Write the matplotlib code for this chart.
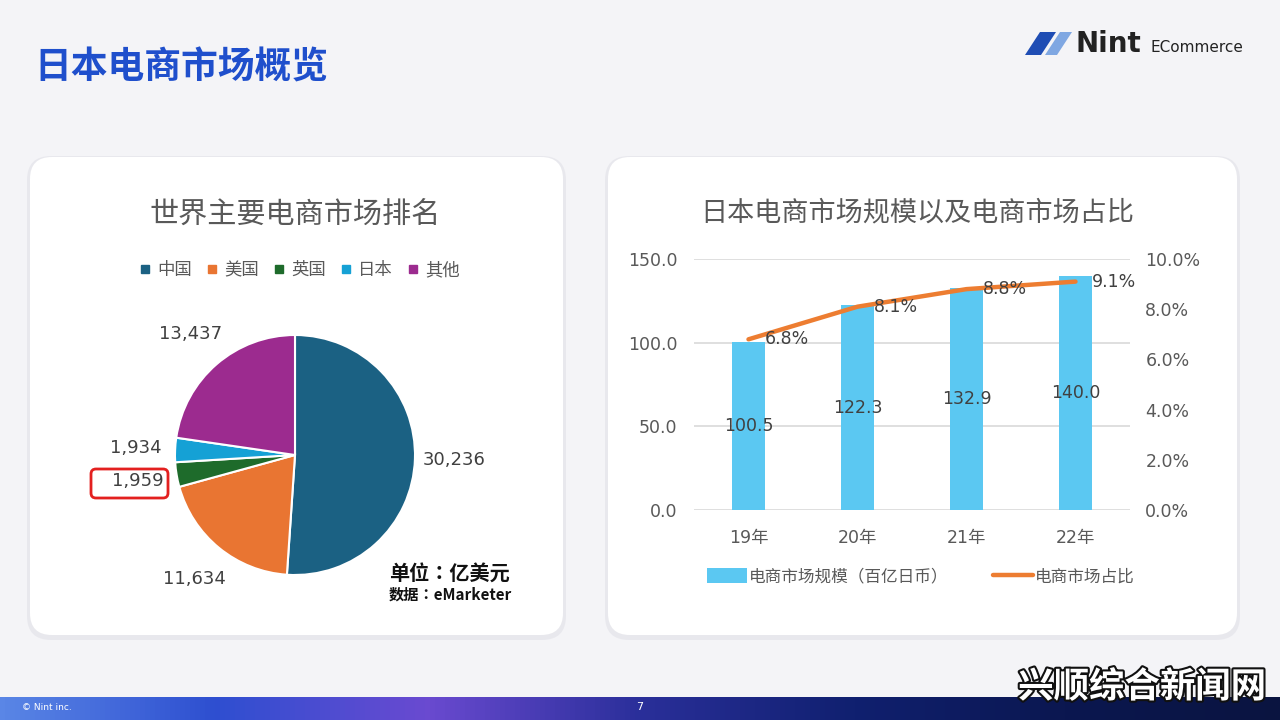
import matplotlib
matplotlib.use("Agg")
import matplotlib.pyplot as plt
import matplotlib.patheffects as pe
from matplotlib.patches import FancyBboxPatch, Polygon
from matplotlib.lines import Line2D
from matplotlib.colors import LinearSegmentedColormap
import numpy as np

plt.rcParams['font.family'] = ['DejaVu Sans', 'Noto Sans CJK SC']

# pie data
markets = ['中国', '美国', '英国', '日本', '其他']
market_values = [30236, 11634, 1959, 1934, 13437]
market_colors = ['#1b6183', '#e97532', '#1e6b2b', '#15a1d5', '#9c2b8f']

# bar / line data
years = ['19年', '20年', '21年', '22年']
market_size = [100.5, 122.3, 132.9, 140.0]
market_share = [6.8, 8.1, 8.8, 9.1]

W, H = 1280, 720
TXT = '#595959'
CJK = ['Noto Sans CJK SC', 'DejaVu Sans']


def px(x, y, w, h):
    return [x / W, 1 - (y + h) / H, w / W, h / H]


fig = plt.figure(figsize=(12.8, 7.2), dpi=100)
fig.patch.set_facecolor('#f4f4f7')

# background layer in pixel coords
bg = fig.add_axes([0, 0, 1, 1], zorder=-1)
bg.axis('off')

for (x, y, w, h) in [(30, 157, 533, 478), (608, 157, 629, 478)]:
    bg.add_patch(FancyBboxPatch((x - 3, y - 1), w + 6, h + 6,
                                boxstyle="round,pad=0,rounding_size=24",
                                fc='#e4e4ea', ec='none', alpha=0.7))
    bg.add_patch(FancyBboxPatch((x, y), w, h, boxstyle="round,pad=0,rounding_size=22",
                                fc='white', ec='none'))

bg.text(34, 68, '日本电商市场概览', fontsize=26.5, fontweight='bold', color='#1f4fcc',
        va='center', ha='left', family=CJK)

# logo
bg.add_patch(Polygon([[1025, 55], [1040, 32], [1056, 32], [1041, 55]], fc='#1f4db4', ec='none'))
bg.add_patch(Polygon([[1045, 55], [1060, 32], [1072, 32], [1057, 55]], fc='#7fa7e2', ec='none'))
bg.text(1076, 44, 'Nint', fontsize=20, fontweight='bold', color='#222222', va='center', ha='left')
bg.text(1151, 48, 'ECommerce', fontsize=11, color='#222222', va='center', ha='left')

# left card texts
bg.text(295, 215, '世界主要电商市场排名', fontsize=21, color=TXT, ha='center', va='center', family=CJK)
bg.text(389, 573, '单位：亿美元', fontsize=14.5, fontweight='bold', color='#111111',
        ha='left', va='center', family=['Noto Sans CJK TC', 'DejaVu Sans'])
bg.text(389, 595, '数据：eMarketer', fontsize=11, fontweight='bold', color='#111111',
        ha='left', va='center', family=['Noto Sans CJK TC', 'DejaVu Sans'])
bg.add_patch(FancyBboxPatch((91, 469), 77, 29, boxstyle="round,pad=0,rounding_size=5",
                            fc='none', ec='#e3201f', lw=2))

# right card title
bg.text(917, 213, '日本电商市场规模以及电商市场占比', fontsize=19.5, color=TXT,
        ha='center', va='center', family=CJK)

# footer
cmap = LinearSegmentedColormap.from_list('foot', ['#5a86e6', '#2e4fd0', '#6a4ad0', '#2a2f9a',
                                                  '#102070', '#0b1750', '#0a1440'])
bg.imshow(np.linspace(0, 1, 256)[None, :], cmap=cmap, aspect='auto',
          extent=(0, W, 720, 697), zorder=0)
bg.set_xlim(0, W)
bg.set_ylim(H, 0)
bg.text(22, 707, '© Nint inc.', fontsize=6.5, color='white', va='center')
bg.text(640, 707, '7', fontsize=8, color='white', va='center', ha='center')
bg.text(1142, 687, '兴顺综合新闻网', fontsize=25.5, fontweight='bold', color='white',
        ha='center', va='center', family=CJK,
        path_effects=[pe.withStroke(linewidth=3, foreground='#111111')])

# pie chart
r_px = 120
ax_pie = fig.add_axes(px(295 - 180, 455 - 180, 360, 360))
ax_pie.set_facecolor('none')
wedges, texts = ax_pie.pie(market_values, colors=market_colors, startangle=90, counterclock=False,
                           labels=[f'{v:,}' for v in market_values], labeldistance=1.33,
                           wedgeprops=dict(edgecolor='white', linewidth=1.5),
                           textprops=dict(fontsize=13, color='#404040'))
for t in texts:
    t.set_ha('center')
    t.set_va('center')
lim = 180 / r_px
ax_pie.set_xlim(-lim, lim)
ax_pie.set_ylim(-lim, lim)
ax_pie.set_aspect('equal')

handles = [Line2D([], [], marker='s', ls='none', markersize=6, color=c) for c in market_colors]
fig.legend(handles, markets, loc='center', bbox_to_anchor=(300 / W, 1 - 270 / H), ncol=5,
           frameon=False, fontsize=12.5, handlelength=0.6, handletextpad=0.4, columnspacing=0.85,
           labelcolor=TXT)

# bar + line chart
ax = fig.add_axes(px(694, 259, 436, 251))
ax.set_facecolor('none')
x = np.arange(len(years))
bars = ax.bar(x, market_size, width=0.31, color='#5bc8f2', zorder=2)
ax.set_ylim(0, 150)
ax.set_xlim(-0.5, len(years) - 0.5)
ax.set_yticks([0, 50, 100, 150])
ax.set_yticklabels([f'{v:.1f}' for v in [0, 50, 100, 150]])
ax.set_xticks(x)
ax.set_xticklabels(years)
ax.grid(axis='y', color='#d9d9d9', lw=1.2, zorder=0)
for s in ax.spines.values():
    s.set_visible(False)
ax.tick_params(length=0, labelsize=12.5, labelcolor=TXT)
ax.tick_params(axis='y', pad=12)
ax.tick_params(axis='x', pad=14)
for i, v in enumerate(market_size):
    ax.text(i, v / 2, f'{v:.1f}', ha='center', va='center', fontsize=12.5, color='#404040', zorder=3)

ax2 = ax.twinx()
ax2.set_ylim(0, 10)
line, = ax2.plot(x, market_share, color='#ed7d31', lw=3.2, solid_capstyle='round')
ax2.set_yticks([0, 2, 4, 6, 8, 10])
ax2.set_yticklabels([f'{v:.1f}%' for v in [0, 2, 4, 6, 8, 10]])
ax2.tick_params(length=0, labelsize=12.5, labelcolor=TXT, pad=11)
for s in ax2.spines.values():
    s.set_visible(False)
for i, v in enumerate(market_share):
    ax2.annotate(f'{v:.1f}%', (i, v), xytext=(12, 0), textcoords='offset points',
                 ha='left', va='center', fontsize=12.5, color='#404040')

ax.legend([bars, line], ['电商市场规模（百亿日币）', '电商市场占比'], loc='center',
          bbox_to_anchor=(0.52, -0.265), ncol=2, frameon=False, fontsize=12,
          handlelength=2.4, handleheight=1.0, handletextpad=0.1, columnspacing=2.7,
          labelcolor=TXT)

fig.savefig('out.png', dpi=100, facecolor=fig.get_facecolor())
